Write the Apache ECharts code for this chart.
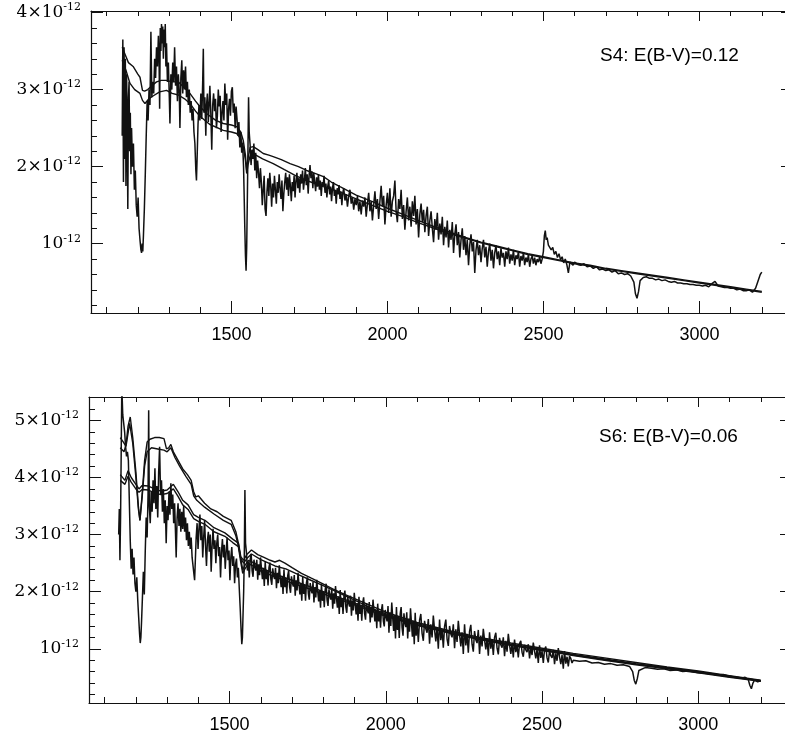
<!DOCTYPE html>
<html>
<head>
<meta charset="utf-8">
<script src="https://cdn.jsdelivr.net/npm/echarts@6/dist/echarts.min.js"></script>
<style>
  html, body { margin: 0; padding: 0; background: #fff; overflow: hidden; }
  /* the plot frame runs slightly past the right edge of the page */
  #chart { width: 800px; height: 736px; }
</style>
</head>
<body>
<div id="chart"></div>
<script>
// Wavelength axis (Angstrom) shared by both panels
const waveMin = 1050, waveMax = 3300;
const waveMajorTicks = [1500, 2000, 2500, 3000];
const waveMinorTicks = [1100, 1200, 1300, 1400, 1600, 1700, 1800, 1900, 2100, 2200, 2300, 2400, 2600, 2700, 2800, 2900, 3100, 3200];

// Flux axes, in units of 1e-12
const s4FluxMin = 0.1, s4FluxMax = 4.02;
const s4FluxMajor = [1, 2, 3, 4];
const s4FluxMinor = [0.2, 0.4, 0.6, 0.8, 1.2, 1.4, 1.6, 1.8, 2.2, 2.4, 2.6, 2.8, 3.2, 3.4, 3.6, 3.8];
const s6FluxMin = 0.05, s6FluxMax = 5.41;
const s6FluxMajor = [1, 2, 3, 4, 5];
const s6FluxMinor = [0.2, 0.4, 0.6, 0.8, 1.2, 1.4, 1.6, 1.8, 2.2, 2.4, 2.6, 2.8, 3.2, 3.4, 3.6, 3.8, 4.2, 4.4, 4.6, 4.8, 5.2, 5.4];

const s4Label = 'S4: E(B-V)=0.12';
const s6Label = 'S6: E(B-V)=0.06';

// S4 observed spectrum [wavelength, flux/1e-12]
const s4Observed = [
[1150,2.40],[1152,3.65],[1154,1.80],[1156,3.55],[1158,2.10],[1160,3.40],[1162,1.75],[1164,3.20],[1166,2.60],[1168,1.45],
[1170,2.90],[1172,3.10],[1174,2.20],[1176,2.70],[1178,1.90],[1180,2.50],[1183,2.00],[1186,2.30],[1189,1.70],[1192,1.95],
[1195,1.50],[1198,1.35],[1201,1.60],[1204,1.20],[1207,1.05],[1210,0.92],[1212,0.88],[1214,1.00],[1216,0.90],[1218,1.10],
[1221,1.45],[1224,1.90],[1227,2.40],[1230,2.85],[1233,2.60],[1236,3.00],[1239,2.80],[1242,3.75],[1245,2.90],[1248,3.10],
[1251,2.95],[1254,3.40],[1257,3.15],[1260,3.55],[1263,3.30],[1266,3.70],[1268,3.45],[1270,2.75],[1272,3.80],[1274,3.50],
[1276,3.85],[1278,3.60],[1280,3.82],[1282,3.40],[1284,3.78],[1286,3.55],[1288,3.85],[1290,3.30],[1292,3.60],[1295,3.10],
[1298,3.35],[1301,2.90],[1303,2.56],[1306,3.20],[1309,3.00],[1312,3.35],[1315,3.10],[1318,3.55],[1321,3.05],[1324,3.30],
[1327,2.85],[1330,3.20],[1333,2.95],[1335,2.50],[1338,3.15],[1341,3.38],[1344,2.95],[1347,3.25],[1350,3.00],[1353,3.30],
[1356,2.90],[1359,3.10],[1362,2.80],[1365,3.00],[1368,2.70],[1371,2.85],[1374,2.60],[1377,2.75],[1380,2.45],[1383,2.30],
[1386,1.95],[1388,1.82],[1390,2.10],[1393,2.55],[1396,2.80],[1399,2.60],
[1402,2.95],[1405,2.62],[1408,3.10],[1410,3.53],[1412,2.70],[1415,2.90],[1418,2.40],[1420,2.78],[1423,2.95],[1426,2.58],
[1429,2.85],[1431,3.05],[1434,2.70],[1437,2.22],[1440,2.80],[1443,2.95],[1446,2.72],[1449,2.88],[1452,2.50],[1455,2.65],
[1458,3.00],[1461,2.78],[1464,2.92],[1467,2.45],[1470,2.70],[1473,2.85],[1476,2.60],[1479,3.08],[1482,2.80],[1485,2.95],
[1488,2.35],[1491,2.75],[1494,2.88],[1497,2.66],[1500,2.98],[1503,3.03],[1506,2.70],[1509,2.82],[1512,2.50],[1515,2.78],
[1518,2.62],[1521,2.40],[1524,2.58],[1527,2.25],[1530,2.45],[1533,2.18],[1536,2.30],[1539,1.99],[1541,1.60],[1543,1.20],
[1545,0.85],[1547,0.65],[1549,0.95],[1551,1.55],[1553,2.20],[1555,2.90],[1557,2.45],[1560,2.28],[1563,2.02],[1566,2.22],
[1569,2.10],[1572,2.30],[1575,1.95],[1578,2.18],[1581,1.85],[1584,2.08],[1587,1.92],[1590,1.72],[1593,1.98],[1596,1.80],
[1599,1.50],[1602,1.70],[1605,1.88],[1608,1.45],[1611,1.36],[1614,1.68],[1617,1.85],[1620,1.62],[1623,1.92],[1626,1.75],
[1629,1.48],[1632,1.78],[1635,1.60],[1638,1.88],[1641,1.70],[1644,1.52],[1647,1.80],[1650,1.66],[1653,1.90],[1656,1.72],
[1659,1.58],[1662,1.82],[1665,1.42],[1668,1.65],[1671,1.80],[1674,1.92],[1677,1.70],[1680,1.86],[1683,1.62],[1686,1.90],
[1689,1.75],[1692,1.55],[1695,1.80],[1698,1.68],[1701,1.88],[1704,1.60],[1707,1.82],[1710,1.92],[1713,1.72],[1716,1.85],
[1719,1.66],[1722,1.90],[1725,1.78],[1728,1.95],[1731,1.70],[1734,1.82],[1737,1.98],[1740,1.76],[1743,1.90],[1746,1.65],
[1749,1.88],[1752,2.02],[1755,1.85],[1758,1.94],[1761,1.72],[1764,1.92],[1767,1.80],[1770,1.68],[1773,1.86],[1776,1.74],
[1779,1.90],[1782,1.70],[1785,1.82],[1788,1.62],[1791,1.80],[1794,1.75],[1797,1.88],[1800,1.66],[1803,1.78],[1806,1.60],
[1809,1.75],[1812,1.82],[1815,1.64],[1818,1.74],[1821,1.55],[1824,1.72],[1827,1.80],[1830,1.62],[1833,1.70],[1836,1.52],
[1839,1.72],[1842,1.64],[1845,1.76],[1848,1.58],[1851,1.68],[1854,1.50],[1857,1.66],[1860,1.72],[1864,1.56],[1868,1.64],
[1872,1.48],[1876,1.62],[1880,1.70],[1884,1.52],[1888,1.60],[1892,1.44],[1896,1.58],[1900,1.50],[1904,1.62],[1908,1.42],
[1912,1.55],[1916,1.38],[1920,1.56],[1924,1.48],[1928,1.60],[1932,1.35],[1936,1.52],[1940,1.66],[1944,1.42],[1948,1.55],
[1952,1.30],[1956,1.50],[1960,1.68],[1964,1.45],[1968,1.58],[1972,1.32],[1976,1.55],[1980,1.75],[1984,1.48],[1988,1.62],
[1992,1.25],[1996,1.50],[2000,1.66],[2004,1.40],[2008,1.72],[2012,1.35],[2016,1.55],[2020,1.62],[2024,1.82],[2028,1.42],
[2032,1.28],[2036,1.58],[2040,1.45],[2044,1.70],[2048,1.32],[2052,1.50],[2056,1.18],[2060,1.42],[2064,1.60],[2068,1.30],
[2072,1.48],[2076,1.22],[2080,1.55],[2084,1.36],[2088,1.62],[2092,1.25],[2096,1.45],[2100,1.08],[2104,1.38],[2108,1.52],
[2112,1.28],[2116,1.44],[2120,1.15],[2124,1.36],[2128,1.48],[2132,1.10],[2136,1.30],[2140,1.42],[2144,1.20],[2148,1.02],
[2152,1.32],[2156,1.18],[2160,1.40],[2164,1.05],[2168,1.26],[2172,1.12],[2176,1.35],[2180,0.98],[2184,1.22],[2188,1.08],
[2192,1.30],[2196,0.95],[2200,1.18],[2204,1.05],[2208,1.28],[2212,0.88],[2216,1.12],[2220,1.25],[2224,0.98],[2228,1.15],
[2232,0.82],[2236,1.05],[2240,1.20],[2244,0.92],[2248,1.10],[2252,0.85],[2256,1.05],[2260,0.72],[2264,0.98],[2268,1.12],
[2272,0.90],[2276,1.02],[2280,0.62],[2284,0.92],[2288,1.05],[2292,0.85],[2296,0.98],[2300,0.76],[2304,0.94],[2308,1.05],
[2312,0.82],[2316,0.96],[2320,0.70],[2324,0.90],[2328,1.00],[2332,0.78],[2336,0.92],[2340,0.68],[2344,0.88],[2348,0.98],
[2352,0.80],[2356,0.90],[2360,0.72],[2364,0.94],[2368,0.82],[2372,0.88],[2376,0.70],[2380,0.90],[2384,0.80],[2388,0.95],
[2392,0.74],[2396,0.86],[2400,0.78],[2404,0.92],[2408,0.72],[2412,0.85],[2416,0.80],[2420,0.90],[2424,0.70],[2428,0.84],
[2432,0.78],[2436,0.88],[2440,0.72],[2444,0.82],[2448,0.76],[2452,0.86],[2456,0.70],[2460,0.80],[2464,0.84],[2468,0.74],
[2472,0.82],[2476,0.72],[2480,0.80],[2484,0.76],[2488,0.83],[2492,0.74],[2496,0.80],[2500,0.90],[2503,1.10],[2506,1.17],
[2509,1.05],[2512,1.08],[2516,0.98],[2520,1.00],[2525,0.92],[2530,0.95],[2535,0.86],[2540,0.90],[2545,0.82],[2550,0.87],
[2555,0.79],[2560,0.83],[2565,0.75],[2570,0.80],[2575,0.73],[2580,0.62],[2585,0.76],[2590,0.78],[2595,0.72],[2600,0.76],
[2610,0.73],[2620,0.72],[2630,0.74],[2640,0.70],[2650,0.71],[2660,0.68],[2670,0.70],[2680,0.66],[2690,0.67],[2700,0.65],
[2710,0.66],[2720,0.63],[2730,0.65],[2740,0.61],[2750,0.62],[2760,0.60],[2770,0.61],[2780,0.58],[2790,0.50],[2795,0.35],
[2800,0.29],[2805,0.38],[2810,0.52],[2820,0.56],[2830,0.57],[2840,0.55],[2850,0.55],[2860,0.53],[2870,0.54],[2880,0.52],
[2890,0.53],[2900,0.51],[2910,0.50],[2920,0.51],[2930,0.49],[2940,0.49],[2950,0.48],[2960,0.48],[2970,0.47],[2980,0.47],
[2990,0.46],[3000,0.46],[3010,0.45],[3020,0.46],[3030,0.44],[3040,0.48],[3050,0.51],[3060,0.45],[3070,0.44],[3080,0.43],
[3090,0.43],[3100,0.42],[3110,0.42],[3120,0.40],[3130,0.41],[3140,0.39],[3150,0.39],[3160,0.40],[3170,0.37],[3180,0.42],
[3185,0.48],[3190,0.50],[3195,0.60],[3200,0.63]
];

// S4 model fits
const s4ModelHigh = [
[1150,3.55],[1160,3.45],[1170,3.35],[1185,3.30],[1200,3.20],[1207,3.16],[1215,2.99],[1222,2.98],[1232,3.00],[1245,3.05],
[1260,3.10],[1275,3.12],[1292,3.12],[1310,3.10],[1330,3.10],[1350,3.02],[1367,2.95],[1385,2.85],[1399,2.78],[1420,2.69],
[1450,2.60],[1474,2.56],[1500,2.54],[1517,2.52],[1530,2.45],[1538,2.34],[1545,2.15],[1549,1.95],[1553,2.10],[1560,2.25],
[1570,2.26],[1585,2.22],[1602,2.17],[1620,2.15],[1634,2.13],[1660,2.09],[1688,2.04],[1715,2.00],[1741,1.95],[1770,1.91],
[1795,1.87],[1820,1.80],[1848,1.74],[1900,1.63],[1950,1.55],[2000,1.46],[2050,1.38],[2100,1.30],[2150,1.22],[2200,1.15],
[2250,1.08],[2300,1.02],[2350,0.97],[2400,0.92],[2450,0.87],[2500,0.83],[2550,0.79],[2600,0.75],[2650,0.72],[2700,0.68],
[2750,0.65],[2800,0.62],[2850,0.59],[2900,0.56],[2950,0.53],[3000,0.50],[3050,0.47],[3100,0.44],[3150,0.41],[3200,0.38]
];
const s4ModelLow = [
[1150,3.38],[1162,3.25],[1175,3.08],[1190,3.00],[1207,2.95],[1215,2.86],[1223,2.82],[1235,2.88],[1250,2.92],[1270,2.97],
[1292,2.99],[1310,2.95],[1330,2.93],[1350,2.88],[1367,2.82],[1385,2.72],[1400,2.65],[1430,2.55],[1474,2.47],[1500,2.45],
[1517,2.43],[1530,2.36],[1538,2.26],[1545,2.08],[1549,1.91],[1553,2.02],[1560,2.14],[1570,2.17],[1600,2.10],[1634,2.04],
[1670,1.96],[1707,1.88],[1741,1.82],[1795,1.74],[1848,1.67],[1900,1.58],[1950,1.50],[2000,1.42],[2050,1.35],[2100,1.27],
[2150,1.20],[2200,1.13],[2250,1.07],[2300,1.01],[2350,0.96],[2400,0.91],[2450,0.86],[2500,0.82],[2550,0.78],[2600,0.74],
[2650,0.71],[2700,0.67],[2750,0.64],[2800,0.61],[2850,0.58],[2900,0.55],[2950,0.52],[3000,0.49],[3050,0.46],[3100,0.43],
[3150,0.40],[3200,0.37]
];

// S6 observed spectrum
const s6Observed = [
[1145,3.00],[1147,3.45],[1149,2.55],[1151,3.30],[1153,4.40],[1155,5.60],[1158,5.10],[1161,4.95],[1164,4.80],[1167,4.55],
[1170,4.37],[1173,4.45],[1176,4.30],[1179,3.60],[1182,2.90],[1185,2.40],[1188,2.75],[1191,2.30],[1194,2.60],[1197,2.15],
[1200,2.00],[1203,2.25],[1206,1.85],[1209,1.55],[1212,1.25],[1214,1.10],[1216,1.20],[1218,1.45],[1221,1.90],[1224,2.35],
[1227,1.95],[1230,2.70],[1233,3.30],[1236,2.95],[1239,3.70],[1241,5.18],[1243,3.50],[1246,3.20],[1249,3.75],[1252,3.40],
[1255,3.95],[1258,3.55],[1261,4.16],[1264,3.45],[1267,3.85],[1270,3.30],[1273,4.10],[1276,4.54],[1279,3.70],[1282,3.95],
[1285,3.40],[1288,3.80],[1291,3.20],[1294,3.60],[1297,2.85],[1300,3.50],[1303,3.25],[1306,3.75],[1309,3.35],[1312,3.90],
[1315,3.45],[1318,3.70],[1321,3.20],[1324,3.55],[1327,3.00],[1329,2.60],[1332,3.30],[1335,3.55],[1338,3.15],[1341,3.45],
[1344,3.05],[1347,3.40],[1350,3.10],[1353,3.50],[1356,3.05],[1359,3.30],[1362,2.90],[1365,3.20],[1368,2.80],[1371,3.05],
[1374,2.75],[1377,2.95],[1380,2.60],[1383,2.45],[1386,2.30],[1388,2.20],
[1390,2.50],[1393,2.95],[1396,3.20],[1399,2.75],[1402,3.10],[1405,3.35],[1408,2.90],[1411,3.15],[1414,2.60],[1417,2.95],
[1420,3.25],[1423,2.80],[1426,2.45],[1429,2.90],[1432,3.05],[1435,2.70],[1438,3.00],[1441,2.35],[1444,2.80],[1447,3.10],
[1450,2.75],[1453,2.90],[1456,2.50],[1459,2.85],[1462,3.00],[1465,2.62],[1468,2.78],[1471,2.25],[1474,2.70],[1477,2.92],
[1480,2.60],[1483,2.82],[1486,2.40],[1489,2.70],[1492,2.95],[1495,2.55],[1498,2.72],[1501,2.20],[1504,2.60],[1507,2.78],
[1510,2.45],[1513,2.62],[1516,2.15],[1519,2.48],[1522,2.58],[1525,2.25],[1528,2.42],[1531,2.05],[1534,1.70],[1537,1.30],
[1539,1.08],[1541,1.20],[1543,1.60],[1545,2.00],[1547,2.60],[1549,3.78],[1551,2.85],
[1554,2.68],[1557,2.37],[1560,2.53],[1563,2.25],[1566,2.57],[1569,2.66],[1572,2.37],[1575,2.26],[1578,2.56],[1581,2.43],
[1584,2.37],[1587,2.56],[1590,2.21],[1593,2.48],[1596,2.29],[1599,2.60],[1602,2.40],[1605,2.22],[1608,2.42],[1611,2.10],
[1614,2.53],[1617,2.22],[1620,2.38],[1623,2.11],[1626,2.42],[1629,2.51],[1632,2.22],[1635,2.12],[1638,2.41],[1641,2.28],
[1644,2.22],[1647,2.42],[1650,2.06],[1653,2.33],[1656,2.15],[1659,2.46],[1662,2.25],[1665,2.08],[1668,2.28],[1671,1.96],
[1674,2.39],[1677,2.08],[1680,2.24],[1683,1.97],[1686,2.28],[1689,2.37],[1692,2.09],[1695,1.98],[1698,2.27],[1701,2.15],
[1704,2.09],[1707,2.29],[1710,1.93],[1713,2.20],[1716,2.02],[1719,2.33],[1722,2.13],[1725,1.95],[1728,2.15],[1731,1.84],
[1734,2.26],[1737,1.96],[1740,2.12],[1743,1.84],[1746,2.16],[1749,2.25],[1752,1.97],[1755,1.86],[1758,2.15],[1761,2.03],
[1764,1.97],[1767,2.17],[1770,1.81],[1773,2.08],[1776,1.90],[1779,2.21],[1782,2.01],[1785,1.83],[1788,2.03],[1791,1.72],
[1794,2.14],[1797,1.84],[1800,2.01],[1803,1.73],[1806,2.04],[1809,2.14],[1812,1.85],[1815,1.75],[1818,2.04],[1821,1.92],
[1824,1.86],[1827,2.05],[1830,1.70],[1833,1.97],[1836,1.79],[1839,2.10],[1842,1.89],[1845,1.72],[1848,1.92],[1851,1.61],
[1854,2.03],[1857,1.73],[1860,1.89],[1863,1.61],[1866,1.93],[1869,2.02],[1872,1.73],[1875,1.63],[1878,1.92],[1881,1.80],
[1884,1.74],[1887,1.93],[1890,1.58],[1893,1.85],[1896,1.67],[1899,1.98],[1902,1.78],[1905,1.60],[1908,1.80],[1911,1.49],
[1914,1.91],[1917,1.61],[1920,1.77],[1923,1.49],[1926,1.81],[1929,1.90],[1932,1.62],[1935,1.51],[1938,1.80],[1941,1.68],
[1944,1.62],[1947,1.82],[1950,1.46],[1953,1.73],[1956,1.55],[1959,1.86],[1962,1.65],[1965,1.48],[1968,1.68],[1971,1.36],
[1974,1.79],[1977,1.48],[1980,1.65],[1983,1.37],[1986,1.68],[1989,1.78],[1992,1.49],[1995,1.39],[1998,1.68],[2001,1.56],
[2004,1.48],[2007,1.75],[2010,1.28],[2013,1.64],[2016,1.40],[2019,1.81],[2022,1.55],[2025,1.31],[2028,1.59],[2031,1.18],
[2034,1.73],[2037,1.33],[2040,1.56],[2043,1.19],[2046,1.61],[2049,1.73],[2052,1.37],[2055,1.23],[2058,1.62],[2061,1.45],
[2064,1.38],[2067,1.64],[2070,1.18],[2073,1.53],[2076,1.30],[2079,1.71],[2082,1.45],[2085,1.21],[2088,1.49],[2091,1.08],
[2094,1.63],[2097,1.23],[2100,1.46],[2104,1.12],[2108,1.50],[2112,1.61],[2116,1.27],[2120,1.14],[2124,1.49],[2128,1.35],
[2132,1.28],[2136,1.52],[2140,1.09],[2144,1.43],[2148,1.20],[2152,1.58],[2156,1.33],[2160,1.13],[2164,1.37],[2168,1.00],
[2172,1.51],[2176,1.15],[2180,1.34],[2184,1.02],[2188,1.39],[2192,1.51],[2196,1.17],[2200,1.05],[2204,1.40],[2208,1.26],
[2212,1.20],[2216,1.43],[2220,1.01],[2224,1.34],[2228,1.12],[2232,1.49],[2236,1.25],[2240,1.04],[2244,1.29],[2248,0.91],
[2252,1.43],[2256,1.06],[2260,1.26],[2264,0.93],[2268,1.31],[2272,1.42],[2276,1.08],[2280,0.95],[2284,1.31],[2288,1.16],
[2292,1.10],[2296,1.33],[2300,0.91],[2304,1.23],[2308,1.04],[2312,1.35],[2316,1.15],[2320,0.99],[2324,1.18],[2328,0.88],
[2332,1.29],[2336,1.00],[2340,1.16],[2344,0.89],[2348,1.20],[2352,1.28],[2356,1.01],[2360,0.90],[2364,1.19],[2368,1.07],
[2372,1.02],[2376,1.20],[2380,0.87],[2384,1.14],[2388,0.95],[2392,1.26],[2396,1.07],[2400,0.91],[2404,1.09],[2408,0.85],
[2412,1.16],[2416,0.94],[2420,1.06],[2424,0.85],[2428,1.09],[2432,1.14],[2436,0.94],[2440,0.86],[2444,1.07],[2448,0.98],
[2452,0.94],[2456,1.08],[2460,0.83],[2464,1.02],[2468,0.89],[2472,1.11],[2476,0.96],[2480,0.83],[2484,0.99],[2488,0.75],
[2492,1.06],[2496,0.84],[2500,0.96],[2504,0.75],[2508,0.99],[2512,1.04],[2516,0.84],[2520,0.76],[2524,0.97],[2528,0.88],
[2532,0.84],[2536,0.98],[2540,0.73],[2544,0.92],[2548,0.79],[2552,1.01],[2556,0.86],[2560,0.73],[2564,0.89],[2568,0.65],
[2572,0.96],[2576,0.74],[2580,0.86],[2584,0.69],[2588,0.87],[2592,0.83],[2596,0.75],[2600,0.80],
[2620,0.78],[2640,0.79],[2660,0.75],[2680,0.76],[2700,0.73],[2720,0.74],[2740,0.71],[2760,0.72],[2780,0.69],[2790,0.60],
[2795,0.45],[2800,0.38],[2805,0.48],[2810,0.62],[2830,0.67],[2850,0.66],[2870,0.64],[2890,0.65],[2910,0.62],[2930,0.63],
[2950,0.60],[2970,0.61],[3000,0.58],[3020,0.57],[3040,0.56],[3060,0.54],[3080,0.55],[3100,0.52],[3120,0.50],[3140,0.49],
[3150,0.50],[3160,0.46],[3165,0.36],[3170,0.30],[3175,0.40],[3180,0.45],[3190,0.42],[3200,0.44]
];

// S6 model fits (two brighter, two fainter)
const s6ModelA = [
[1150,4.70],[1160,4.62],[1168,4.55],[1175,4.90],[1182,5.06],[1190,4.70],[1200,4.10],[1208,3.50],[1213,3.25],[1220,3.70],
[1228,4.30],[1236,4.62],[1245,4.67],[1260,4.70],[1275,4.70],[1290,4.68],[1298,4.50],[1305,4.52],[1312,4.58],[1320,4.45],
[1335,4.30],[1350,4.15],[1365,4.05],[1377,3.95],[1385,3.75],[1392,3.66],[1400,3.68],[1420,3.55],[1440,3.45],[1460,3.40],
[1480,3.32],[1505,3.25],[1520,3.05],[1530,2.80],[1536,2.61],[1545,2.55],[1555,2.65],[1570,2.73],[1590,2.65],[1610,2.60],
[1630,2.55],[1645,2.52],[1660,2.55],[1677,2.50],[1700,2.42],[1730,2.32],[1760,2.24],[1794,2.15],[1830,2.05],[1870,1.95],
[1900,1.88],[1950,1.76],[2000,1.64],[2100,1.46],[2200,1.32],[2300,1.20],[2400,1.10],[2500,1.01],[2600,0.92],[2700,0.84],
[2800,0.76],[2900,0.68],[3000,0.61],[3100,0.53],[3200,0.45]
];
const s6ModelB = [
[1150,4.52],[1162,4.45],[1170,4.60],[1180,4.95],[1190,4.60],[1200,4.00],[1208,3.45],[1213,3.25],[1220,3.65],[1228,4.20],
[1236,4.45],[1250,4.52],[1270,4.50],[1290,4.48],[1300,4.45],[1312,4.52],[1325,4.35],[1340,4.20],[1360,4.02],[1377,3.88],
[1385,3.68],[1395,3.60],[1420,3.48],[1450,3.36],[1480,3.25],[1505,3.18],[1520,2.98],[1530,2.75],[1536,2.58],[1545,2.50],
[1555,2.58],[1570,2.66],[1600,2.56],[1645,2.45],[1680,2.40],[1720,2.30],[1760,2.20],[1794,2.12],[1850,1.98],[1900,1.85],
[1950,1.72],[2000,1.61],[2100,1.44],[2200,1.30],[2300,1.18],[2400,1.08],[2500,0.99],[2600,0.90],[2700,0.82],[2800,0.74],
[2900,0.67],[3000,0.60],[3100,0.52],[3200,0.44]
];
const s6ModelC = [
[1150,4.05],[1165,3.95],[1175,4.12],[1185,4.00],[1200,3.88],[1210,3.80],[1220,3.86],[1240,3.85],[1260,3.80],[1280,3.76],
[1300,3.78],[1320,3.88],[1335,3.75],[1350,3.60],[1367,3.52],[1385,3.35],[1400,3.30],[1421,3.25],[1450,3.12],[1485,3.03],
[1510,2.92],[1528,2.85],[1535,2.60],[1542,2.38],[1548,2.45],[1560,2.55],[1580,2.50],[1600,2.42],[1650,2.30],[1700,2.20],
[1750,2.10],[1800,2.00],[1850,1.90],[1900,1.80],[1950,1.70],[2000,1.59],[2100,1.42],[2200,1.29],[2300,1.17],[2400,1.07],
[2500,0.98],[2600,0.89],[2700,0.81],[2800,0.73],[2900,0.66],[3000,0.59],[3100,0.51],[3200,0.44]
];
const s6ModelD = [
[1150,3.95],[1165,3.88],[1175,4.02],[1185,3.92],[1200,3.80],[1210,3.74],[1220,3.79],[1240,3.78],[1260,3.73],[1280,3.70],
[1300,3.72],[1320,3.80],[1335,3.67],[1350,3.52],[1367,3.44],[1385,3.28],[1400,3.23],[1421,3.18],[1450,3.05],[1485,2.97],
[1510,2.86],[1528,2.79],[1535,2.54],[1542,2.32],[1548,2.39],[1560,2.49],[1580,2.44],[1600,2.36],[1650,2.25],[1700,2.15],
[1750,2.06],[1800,1.96],[1850,1.87],[1900,1.77],[1950,1.67],[2000,1.57],[2100,1.41],[2200,1.28],[2300,1.16],[2400,1.06],
[2500,0.97],[2600,0.88],[2700,0.80],[2800,0.72],[2900,0.65],[3000,0.58],[3100,0.50],[3200,0.43]
];

const ink = '#111';
const tickFont = 'Liberation Sans, Arial, Helvetica, sans-serif';
const serifFont = 'DejaVu Serif, Liberation Serif, serif';

function fluxLabel(v) {
  const n = Math.round(v);
  return n === 1 ? '{m|10}{s|-12}' : '{m|' + n + '×10}{s|-12}';
}

// Four wavelength axes per panel: labelled major ticks and minor ticks, bottom and top
function waveAxes(gridIndex) {
  const base = { type: 'value', gridIndex, min: waveMin, max: waveMax, splitLine: { show: false } };
  return [
    Object.assign({}, base, { position: 'bottom',
      axisLine: { show: true, onZero: false, lineStyle: { color: ink, width: 1.2 } },
      axisTick: { inside: true, length: 12, customValues: waveMajorTicks, lineStyle: { color: ink } },
      axisLabel: { customValues: waveMajorTicks, margin: 13, color: '#000', fontSize: 18, fontFamily: tickFont,
        formatter: v => String(Math.round(v)) } }),
    Object.assign({}, base, { position: 'bottom', axisLine: { show: false },
      axisTick: { inside: true, length: 6, customValues: waveMinorTicks, lineStyle: { color: ink } },
      axisLabel: { show: false } }),
    Object.assign({}, base, { position: 'top',
      axisLine: { show: true, onZero: false, lineStyle: { color: ink, width: 1.2 } },
      axisTick: { inside: true, length: 10, customValues: waveMajorTicks, lineStyle: { color: ink } },
      axisLabel: { show: false } }),
    Object.assign({}, base, { position: 'top', axisLine: { show: false },
      axisTick: { inside: true, length: 5, customValues: waveMinorTicks, lineStyle: { color: ink } },
      axisLabel: { show: false } })
  ];
}

// Four flux axes per panel: labelled major ticks and minor ticks, left and right
function fluxAxes(gridIndex, min, max, major, minor) {
  const base = { type: 'value', gridIndex, min, max, splitLine: { show: false } };
  return [
    Object.assign({}, base, { position: 'left',
      axisLine: { show: true, onZero: false, lineStyle: { color: ink, width: 1.2 } },
      axisTick: { inside: true, length: 12, customValues: major, lineStyle: { color: ink } },
      axisLabel: { customValues: major, margin: 10, formatter: fluxLabel,
        rich: {
          m: { fontFamily: serifFont, fontSize: 17, color: '#000', lineHeight: 21 },
          s: { fontFamily: serifFont, fontSize: 11, color: '#000', lineHeight: 14, verticalAlign: 'top' }
        } } }),
    Object.assign({}, base, { position: 'left', axisLine: { show: false },
      axisTick: { inside: true, length: 6, customValues: minor, lineStyle: { color: ink } },
      axisLabel: { show: false } }),
    Object.assign({}, base, { position: 'right',
      axisLine: { show: true, onZero: false, lineStyle: { color: ink, width: 1.2 } },
      axisTick: { inside: true, length: 12, customValues: major, lineStyle: { color: ink } },
      axisLabel: { show: false } }),
    Object.assign({}, base, { position: 'right', axisLine: { show: false },
      axisTick: { inside: true, length: 6, customValues: minor, lineStyle: { color: ink } },
      axisLabel: { show: false } })
  ];
}

function spectrum(data, xIndex, yIndex, width) {
  return {
    type: 'line', data, xAxisIndex: xIndex, yAxisIndex: yIndex,
    showSymbol: false, clip: true,
    lineStyle: { color: ink, width: width }
  };
}

const chart = echarts.init(document.getElementById('chart'));
chart.setOption({
  animation: false,
  grid: [
    { left: 91, top: 11, width: 702, height: 302, outerBoundsMode: 'none', containLabel: false },
    { left: 89, top: 397, width: 703, height: 306, outerBoundsMode: 'none', containLabel: false }
  ],
  xAxis: waveAxes(0).concat(waveAxes(1)),
  yAxis: fluxAxes(0, s4FluxMin, s4FluxMax, s4FluxMajor, s4FluxMinor)
    .concat(fluxAxes(1, s6FluxMin, s6FluxMax, s6FluxMajor, s6FluxMinor)),
  graphic: [
    { type: 'text', left: 600, top: 46, style: { text: s4Label, fontSize: 19, fontFamily: tickFont, fill: '#000' } },
    { type: 'text', left: 599, top: 427, style: { text: s6Label, fontSize: 19, fontFamily: tickFont, fill: '#000' } }
  ],
  series: [
    spectrum(s4ModelHigh, 0, 0, 1.4),
    spectrum(s4ModelLow, 0, 0, 1.4),
    spectrum(s4Observed, 0, 0, 1.5),
    spectrum(s6ModelA, 4, 4, 1.4),
    spectrum(s6ModelB, 4, 4, 1.4),
    spectrum(s6ModelC, 4, 4, 1.4),
    spectrum(s6ModelD, 4, 4, 1.4),
    spectrum(s6Observed, 4, 4, 1.5)
  ]
});
</script>
</body>
</html>
